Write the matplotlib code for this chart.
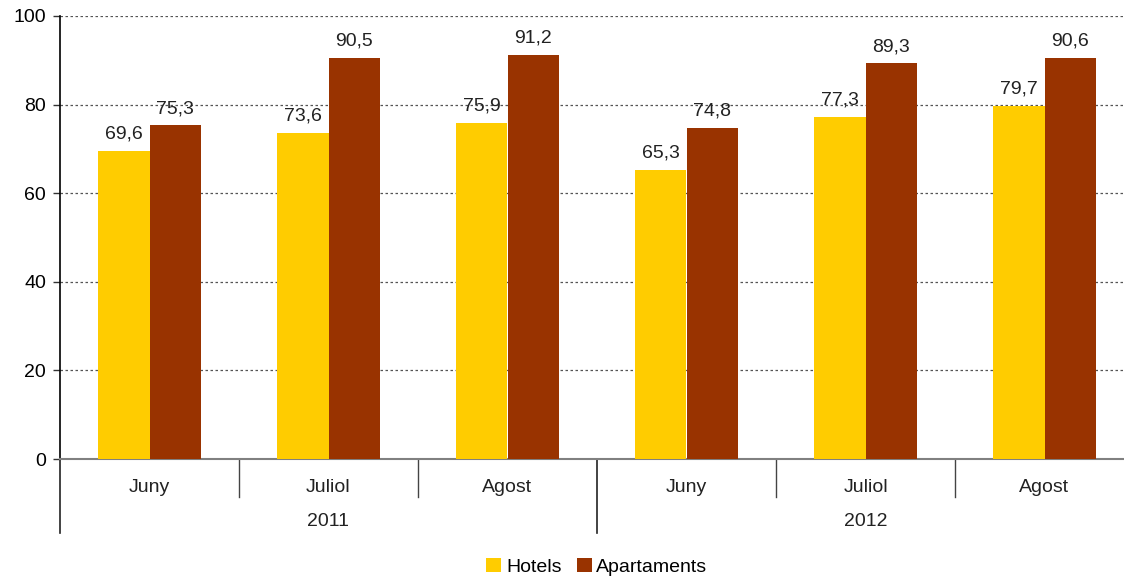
import matplotlib
matplotlib.use("Agg")
import matplotlib.pyplot as plt
import matplotlib.transforms as mtransforms
import numpy as np

plt.rcParams['font.family'] = ['Liberation Sans', 'DejaVu Sans']

months = ["Juny", "Juliol", "Agost", "Juny", "Juliol", "Agost"]
years = ["2011", "2012"]
hotels = [69.6, 73.6, 75.9, 65.3, 77.3, 79.7]
apartaments = [75.3, 90.5, 91.2, 74.8, 89.3, 90.6]
series_names = ["Hotels", "Apartaments"]
colors = ["#FFCC00", "#993300"]

W, H = 1124, 579
FS = 14
fig = plt.figure(figsize=(W / 100, H / 100), dpi=100)
left_px, right_px, top_px, bot_px = 60, 1134, 16, 459
ax = fig.add_axes([left_px / W, (H - bot_px) / H, (right_px - left_px) / W, (bot_px - top_px) / H])

x = np.arange(len(months))
bw = 0.285
b1 = ax.bar(x - bw / 2, hotels, bw, color=colors[0], label=series_names[0], zorder=3)
b2 = ax.bar(x + bw / 2, apartaments, bw, color=colors[1], label=series_names[1], zorder=3)

def fmt(v):
    return f"{v:.1f}".replace(".", ",")

for bars, vals in ((b1, hotels), (b2, apartaments)):
    for r, v in zip(bars, vals):
        ax.annotate(fmt(v), (r.get_x() + r.get_width() / 2, v), xytext=(0, 6),
                    textcoords="offset points", ha="center", va="bottom",
                    fontsize=FS, color="#222222", zorder=4)

ax.set_xlim(-0.5, 5.5)
ax.set_ylim(0, 100)
ax.set_yticks([0, 20, 40, 60, 80, 100])
ax.tick_params(axis='y', labelsize=FS, length=5, width=1, color="#333333", pad=5)
ax.tick_params(axis='x', bottom=False, labelbottom=False)
ax.grid(axis='y', linestyle=(0, (2, 2)), color="#555555", linewidth=0.9, zorder=0)

for s in ("top", "right"):
    ax.spines[s].set_visible(False)
ax.spines["bottom"].set_color("#808080")
ax.spines["bottom"].set_linewidth(1.5)
ax.spines["left"].set_color("black")
ax.spines["left"].set_linewidth(1.2)

trans = mtransforms.blended_transform_factory(ax.transData, ax.transAxes)
hpx = bot_px - top_px
for xs in [0.5, 1.5, 3.5, 4.5]:
    ax.plot([xs, xs], [0, -38 / hpx], transform=trans, color="#444444", lw=1, clip_on=False)
for xs in [-0.5, 2.5, 5.5]:
    ax.plot([xs, xs], [0, -74 / hpx], transform=trans, color="#222222", lw=1.2, clip_on=False)

for i, m in enumerate(months):
    ax.text(i, -28 / hpx, m, transform=trans, ha="center", va="center", fontsize=FS, color="#222222")
for j, yr in enumerate(years):
    ax.text(1 + 3 * j, -62 / hpx, yr, transform=trans, ha="center", va="center", fontsize=FS, color="#222222")

fig.legend(handles=[b1, b2], labels=series_names, loc="center", bbox_to_anchor=(597 / W, 1 - 567 / H),
           ncol=2, frameon=False, fontsize=FS, handlelength=0.75, handleheight=0.75,
           handletextpad=0.25, columnspacing=0.8)

fig.savefig("out.png", dpi=100)
